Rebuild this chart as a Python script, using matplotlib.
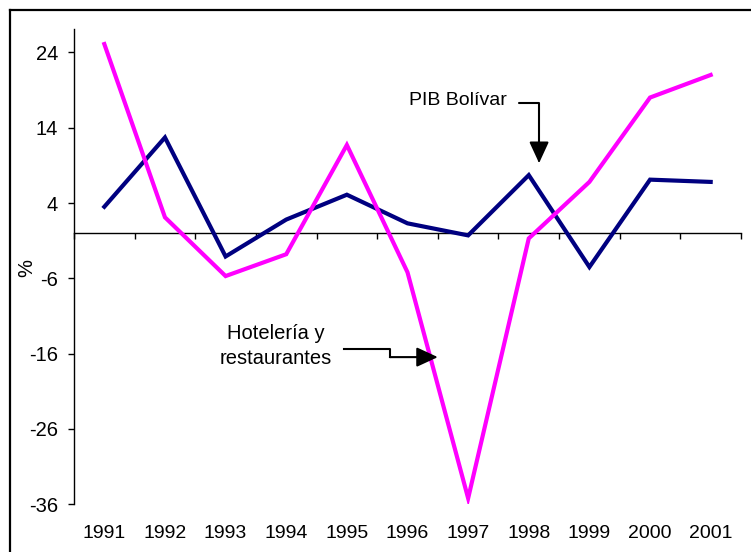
import numpy as np
import matplotlib.pyplot as plt
from matplotlib.lines import Line2D

plt.rcParams['font.family'] = ['Liberation Sans', 'DejaVu Sans']

years = ['1991', '1992', '1993', '1994', '1995', '1996',
         '1997', '1998', '1999', '2000', '2001']
pib_bolivar = [3.5, 12.7, -3.1, 1.8, 5.1, 1.3, -0.3, 7.7, -4.5, 7.1, 6.8]
hoteleria = [25.1, 2.1, -5.7, -2.8, 11.7, -5.2, -35.2, -0.7, 6.8, 18.0, 21.0]
yticks = [24, 14, 4, -6, -16, -26, -36]

x = np.arange(len(years))

fig = plt.figure(figsize=(7.51, 5.52), dpi=100)
ax = fig.add_axes([74/751, 1 - 504.3/552, (741 - 74)/751, (504.3 - 29)/552])

ax.plot(x, pib_bolivar, color='#000080', lw=3, solid_joinstyle='miter', zorder=3)
ax.plot(x, hoteleria, color='#FF00FF', lw=3, solid_joinstyle='miter', zorder=3)

ax.set_xlim(-0.5, len(years) - 0.5)
ax.set_ylim(-36, 27.1)

# spines: left axis, category axis crossing at zero
for s in ['top', 'right']:
    ax.spines[s].set_visible(False)
ax.spines['left'].set_linewidth(1)
ax.spines['bottom'].set_position(('data', 0))
ax.spines['bottom'].set_linewidth(1)

ax.set_yticks(yticks)
ax.set_yticklabels([str(v) for v in yticks])
ax.tick_params(axis='y', direction='out', length=4.5, width=1, pad=7, labelsize=14.5)

ax.set_xticks(np.arange(len(years) + 1) - 0.5)
ax.set_xticklabels([])
ax.tick_params(axis='x', direction='out', length=4.5, width=1)

sec = ax.secondary_xaxis('bottom')
sec.set_xticks(x)
sec.set_xticklabels(years)
sec.tick_params(length=0, pad=15, labelsize=14)
sec.spines['bottom'].set_visible(False)

fig.text(27/751, 1 - 268/552, '%', rotation=90, ha='center', va='center', fontsize=14.5)

# annotations
ax.text(6.64, 17.65, 'PIB Bolívar', ha='right', va='center', fontsize=14)
ax.annotate('', xy=(7.17, 9.3), xytext=(6.84, 17.3),
            arrowprops=dict(arrowstyle='-|>,head_length=1.3,head_width=0.6',
                            connectionstyle='angle,angleA=0,angleB=90,rad=0',
                            color='black', lw=1.5, mutation_scale=10,
                            shrinkA=0, shrinkB=0))

ax.text(2.83, -15.0, 'Hotelería y\nrestaurantes', ha='center', va='center',
        fontsize=14.5, linespacing=1.35)
ax.plot([3.95, 4.71, 4.71], [-15.4, -15.4, -16.46], color='black', lw=1.5)
ax.annotate('', xy=(5.50, -16.46), xytext=(4.71, -16.46),
            arrowprops=dict(arrowstyle='-|>,head_length=1.3,head_width=0.6',
                            color='black', lw=1.5, mutation_scale=10,
                            shrinkA=0, shrinkB=0))

# outer frame (top and left edges visible)
fig.add_artist(Line2D([10/751, 1], [1 - 10/552, 1 - 10/552], color='black', lw=1.6))
fig.add_artist(Line2D([10/751, 10/751], [0, 1 - 10/552], color='black', lw=1.6))

fig.savefig('out.png', dpi=100)
